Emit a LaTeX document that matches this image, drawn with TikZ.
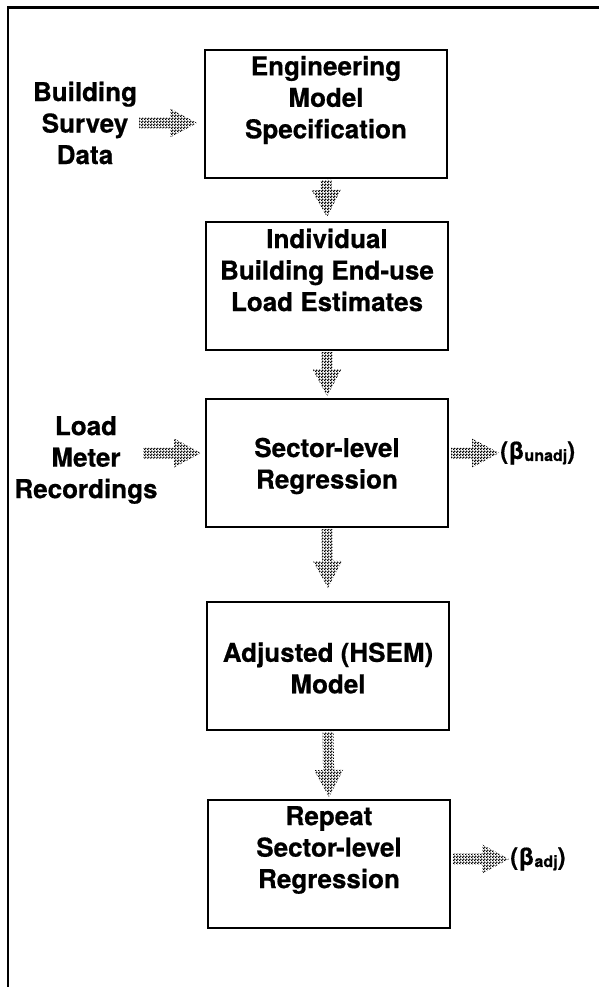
\documentclass[tikz,border=0pt]{standalone}
\usepackage{fontspec}
\setmainfont{TeX Gyre Heros}[BoldFeatures={FakeBold=0.6}]
\usetikzlibrary{calc,patterns}
% dithered halftone used to fill the block arrows
\pgfdeclarepatternformonly{ditherdots}{\pgfqpoint{0pt}{0pt}}{\pgfqpoint{3pt}{3pt}}{\pgfqpoint{3pt}{3pt}}{%
  \pgfpathcircle{\pgfqpoint{0.75pt}{0.75pt}}{1.1pt}%
  \pgfpathcircle{\pgfqpoint{2.25pt}{2.25pt}}{1.1pt}%
  \pgfusepath{fill}}
\tikzset{
  box/.style={draw, line width=2pt, minimum width=242pt, minimum height=128pt, inner sep=0pt},
  txt/.style={align=center, inner sep=2pt, font=\fontsize{26}{31.5}\selectfont\bfseries},
  flowfill/.style={pattern=ditherdots, pattern color=black},
  outlbl/.style={anchor=west, inner sep=1pt, font=\fontsize{24}{24}\selectfont\bfseries},
}
\newcommand{\betasub}[1]{(β\raisebox{-2pt}{\fontsize{16}{16}\selectfont #1})}
% block arrow: shaft 11pt wide, head 29pt wide and 27pt long, from #1 to #2
\newcommand{\blockarrow}[2]{%
  \coordinate (arrS) at (#1);
  \coordinate (arrE) at (#2);
  \coordinate (arrH) at ($(arrE)!27pt!(arrS)$);
  \fill[flowfill] ($(arrS)!5.5pt!90:(arrE)$) -- ($(arrH)!5.5pt!90:(arrE)$)
    -- ($(arrH)!14.5pt!90:(arrE)$) -- (arrE) -- ($(arrH)!14.5pt!-90:(arrE)$)
    -- ($(arrH)!5.5pt!-90:(arrE)$) -- ($(arrS)!5.5pt!-90:(arrE)$) -- cycle;
}
\begin{document}
\begin{tikzpicture}[x=1pt,y=-1pt]
\useasboundingbox (0,0) rectangle (599,987);

% frame (top and left edges)
\draw[line width=2.8pt] (8,987) -- (8,7.5) -- (599,7.5);

% process boxes
\node[box] (b1) at (326,114) {};
\node[box] (b2) at (327,286) {};
\node[box] (b3) at (327,463) {};
\node[box] (b4) at (328,666) {};
\node[box] (b5) at (329,864) {};

% box texts
\node[txt] (t1) at (326,100) {Engineering\\Model\\Specification};
\node[txt] (t2) at (327,270) {Individual\\Building End-use\\Load Estimates};
\node[txt] (t3) at (327,466) {Sector-level\\Regression};
\node[txt] (t4) at (328,668) {Adjusted (HSEM)\\Model};
\node[txt] (t5) at (329,850) {Repeat\\Sector-level\\Regression};

% inputs on the left
\node[txt] (bsd) at (85,123) {Building\\Survey\\Data};
\node[txt] (lmr) at (86,460) {Load\\Meter\\Recordings};
\coordinate (lmr-out) at (143,453);

% outputs on the right
\node[outlbl] (bu) at (499,453) {\betasub{unadj}};
\node[outlbl] (ba) at (509,859) {\betasub{adj}};

% flow arrows
\blockarrow{bsd.east}{$(b1.west |- bsd.east)+(-7,0)$}
\blockarrow{lmr-out}{$(b3.west |- lmr-out)+(-4,0)$}
\blockarrow{$(b1.south)+(0,1)$}{$(b2.north)+(0,-4)$}
\blockarrow{$(b2.south)+(0,1)$}{$(b3.north)+(0,-2)$}
\blockarrow{$(b3.south)+(0,1)$}{$(b4.north)+(0,-13)$}
\blockarrow{$(b4.south)+(0,1)$}{$(b5.north)+(0,-2)$}
\blockarrow{$(b3.east |- bu.west)+(2,0)$}{bu.west}
\blockarrow{$(b5.east |- ba.west)+(2,0)$}{ba.west}
\end{tikzpicture}
\end{document}
